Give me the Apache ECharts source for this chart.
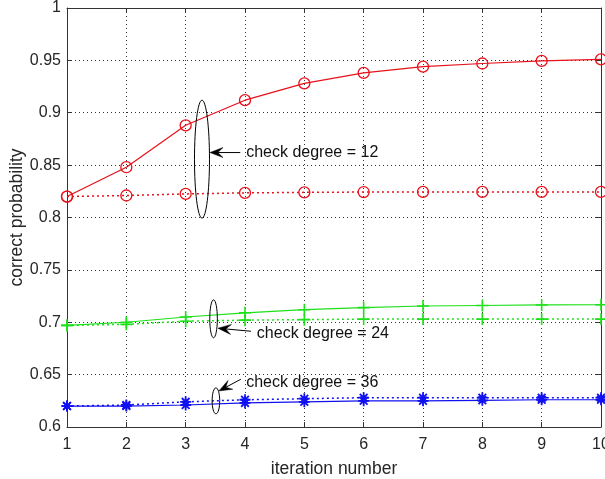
<!DOCTYPE html>
<html>
<head>
<meta charset="utf-8">
<script src="https://cdn.jsdelivr.net/npm/echarts@6/dist/echarts.min.js"></script>
<style>
html,body{margin:0;padding:0;background:#fff;}
#main{width:605px;height:479px;}
</style>
</head>
<body>
<div id="main"></div>
<script>
// ---- data ----
const iterations = [1, 2, 3, 4, 5, 6, 7, 8, 9, 10];
const yTicks = [0.6, 0.65, 0.7, 0.75, 0.8, 0.85, 0.9, 0.95, 1];
const red12Solid  = [0.820, 0.848, 0.888, 0.912, 0.928, 0.938, 0.944, 0.947, 0.9495, 0.951];
const red12Dotted = [0.820, 0.821, 0.8225, 0.8235, 0.824, 0.8243, 0.8244, 0.8244, 0.8244, 0.8244];
const green24Solid  = [0.697, 0.700, 0.705, 0.709, 0.712, 0.714, 0.7155, 0.716, 0.7165, 0.7167];
const green24Dotted = [0.697, 0.698, 0.701, 0.702, 0.7025, 0.703, 0.703, 0.703, 0.703, 0.703];
const blue36Solid  = [0.620, 0.620, 0.621, 0.623, 0.624, 0.625, 0.625, 0.6255, 0.626, 0.626];
const blue36Dotted = [0.620, 0.621, 0.624, 0.626, 0.627, 0.628, 0.628, 0.628, 0.628, 0.628];
const annotationTexts = ['check degree = 12', 'check degree = 24', 'check degree = 36'];

const FONT = '"Liberation Sans", Arial, Helvetica, sans-serif';
const RED = '#e8101a', GREEN = '#1ee01a', BLUE = '#1010f0';
const plusPath = 'path://M0,-10L0,10M-10,0L10,0';
const starPath = 'path://M0,-10L0,10M-10,0L10,0M-7,-7L7,7M-7,7L7,-7';

function pairs(ys){ return iterations.map((x,i)=>[x, ys[i]]); }

function lineSeries(name, ys, color, dotted, symbol, size, bw){
  return {
    name, type:'line', data: pairs(ys), symbol, symbolSize: size,
    showAllSymbol:true,
    lineStyle:{color, width: dotted?1.5:1.2, type: dotted?[2,3]:'solid'},
    itemStyle:{color: 'rgba(0,0,0,0)', borderColor: color, borderWidth: bw},
    z: 3, silent:true, clip:false
  };
}

const chart = echarts.init(document.getElementById('main'), null, {renderer:'canvas'});
const axisLine = {show:true, lineStyle:{color:'#333', width:1}};
const gridLine = {show:true, lineStyle:{color:'#333', width:1, type:[1,3]}};
const option = {
  animation:false,
  backgroundColor:'#fff',
  grid:{left:67, right:4, top:8, bottom:52, containLabel:false, outerBoundsMode:'none'},
  xAxis:[{
    type:'value', min:1, max:10, interval:1, position:'bottom',
    axisLine, axisTick:{show:true, inside:true, length:5, lineStyle:{color:'#333'}},
    axisLabel:{color:'#262626', fontSize:16, fontFamily:FONT, margin:10},
    splitLine: gridLine,
    name:'iteration number', nameLocation:'middle', nameGap:33, nameMoveOverlap:false,
    nameTextStyle:{color:'#262626', fontSize:17.5, fontFamily:FONT}
  },{
    type:'value', min:1, max:10, interval:1, position:'top',
    axisLine, axisTick:{show:true, inside:true, length:5, lineStyle:{color:'#333'}},
    axisLabel:{show:false}, splitLine:{show:false}
  }],
  yAxis:[{
    type:'value', min:yTicks[0], max:yTicks[yTicks.length-1], interval:0.05, position:'left',
    axisLine, axisTick:{show:true, inside:true, length:5, lineStyle:{color:'#333'}},
    axisLabel:{color:'#262626', fontSize:16, fontFamily:FONT, margin:6},
    splitLine: gridLine,
    name:'correct probability', nameLocation:'middle', nameGap:41, nameMoveOverlap:false,
    nameTextStyle:{color:'#262626', fontSize:17.5, fontFamily:FONT}
  },{
    type:'value', min:yTicks[0], max:yTicks[yTicks.length-1], interval:0.05, position:'right',
    axisLine, axisTick:{show:true, inside:true, length:5, lineStyle:{color:'#333'}},
    axisLabel:{show:false}, splitLine:{show:false}
  }],
  series:[
    lineSeries('12 solid', red12Solid, RED, false, 'circle', 11, 1.3),
    lineSeries('12 dotted', red12Dotted, RED, true, 'circle', 11, 1.3),
    lineSeries('24 solid', green24Solid, GREEN, false, plusPath, 12, 1.6),
    lineSeries('24 dotted', green24Dotted, GREEN, true, plusPath, 12, 1.6),
    lineSeries('36 solid', blue36Solid, BLUE, false, starPath, 11, 1.8),
    lineSeries('36 dotted', blue36Dotted, BLUE, true, starPath, 11, 1.8)
  ]
};
chart.setOption(option);

// ---- annotations (anchored in data coordinates) ----
const ellipses = [
  {c:[3.275, 0.8557], rx:7.5, ry:59},
  {c:[3.47, 0.7033], rx:3.8, ry:19},
  {c:[3.51, 0.6250], rx:3.8, ry:13}
];
const arrows = [
  {from:[3.92, 0.862], to:[3.41, 0.862]},
  {from:[4.10, 0.6914], to:[3.545, 0.6943]},
  {from:[3.93, 0.6456], to:[3.56, 0.6344]}
];
const textAnchors = [[4.02, 0.862], [4.20, 0.6895], [4.02, 0.6428]];

const px = p => chart.convertToPixel({xAxisIndex:0, yAxisIndex:0}, p);
const g = [];
ellipses.forEach(e=>{
  const c = px(e.c);
  g.push({type:'ellipse', shape:{cx:c[0], cy:c[1], rx:e.rx, ry:e.ry},
          style:{fill:'none', stroke:'#000', lineWidth:1}, z:10});
});
arrows.forEach(a=>{
  const f = px(a.from), t = px(a.to);
  const dx = f[0]-t[0], dy = f[1]-t[1], len = Math.hypot(dx,dy);
  const ux = dx/len, uy = dy/len, nx = -uy, ny = ux;
  const L = 13, W = 5;
  g.push({type:'line', shape:{x1:f[0], y1:f[1], x2:t[0]+ux*8, y2:t[1]+uy*8},
          style:{stroke:'#000', lineWidth:1}, z:10});
  g.push({type:'polygon', shape:{points:[
    [t[0], t[1]],
    [t[0]+ux*L+nx*W, t[1]+uy*L+ny*W],
    [t[0]+ux*L*0.6, t[1]+uy*L*0.6],
    [t[0]+ux*L-nx*W, t[1]+uy*L-ny*W]
  ]}, style:{fill:'#000', stroke:'#000', lineWidth:0.5}, z:10});
});
textAnchors.forEach((p,i)=>{
  const c = px(p);
  g.push({type:'text', x:c[0], y:c[1], style:{text:annotationTexts[i], fill:'#111',
          font:'16px ' + FONT, textAlign:'left', textVerticalAlign:'middle'}, z:10});
});
chart.setOption({graphic:g});
</script>
</body>
</html>
